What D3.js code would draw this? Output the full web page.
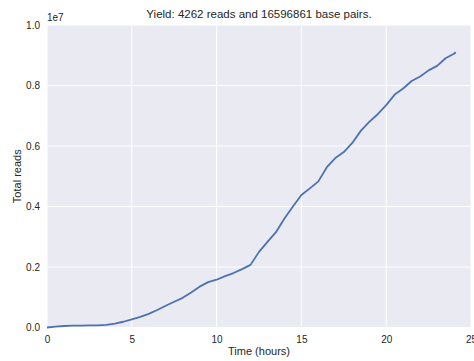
<!DOCTYPE html>
<html>
<head>
<meta charset="utf-8">
<script src="https://cdnjs.cloudflare.com/ajax/libs/d3/7.8.5/d3.min.js"></script>
<style>
  body { margin: 0; background: #fff; }
  svg text { font-family: "Liberation Sans", Arial, sans-serif; fill: #262626; }
</style>
</head>
<body>
<div id="chart"></div>
<script>
const title = "Yield: 4262 reads and 16596861 base pairs."
const hours = [0, 0.5, 1, 1.5, 2, 2.5, 3, 3.5, 4, 4.5, 5, 5.5, 6, 6.5, 7, 7.5, 8, 8.5, 9, 9.5,
    10, 10.5, 11, 11.5, 12, 12.5, 13, 13.5, 14, 14.5, 15, 15.5, 16, 16.5, 17, 17.5, 18, 18.5,
    19, 19.5, 20, 20.5, 21, 21.5, 22, 22.5, 23, 23.5, 24, 24.1]
const reads = [0, 30000, 50000, 60000, 62000, 68000, 72000, 90000, 130000, 190000, 270000, 350000,
    450000, 580000, 720000, 850000, 980000, 1160000, 1350000, 1500000, 1580000, 1700000, 1800000,
    1930000, 2070000, 2500000, 2830000, 3150000, 3600000, 4000000, 4380000, 4600000, 4830000,
    5300000, 5600000, 5800000, 6100000, 6500000, 6800000, 7050000, 7350000, 7700000, 7900000,
    8150000, 8300000, 8500000, 8650000, 8900000, 9050000, 9100000]
const xTicks = [0, 5, 10, 15, 20, 25]
const yTicks = [0, 2e6, 4e6, 6e6, 8e6, 1e7]

const W = 474, H = 361
const margin = {top: 25, right: 3, bottom: 33.5, left: 47}
const width = W - margin.left - margin.right,
      height = H - margin.top - margin.bottom

const svg = d3.select("#chart").append("svg")
    .attr("width", W).attr("height", H)
const g = svg.append("g")
    .attr("transform", "translate(" + margin.left + "," + margin.top + ")")

const x = d3.scaleLinear().domain([0, 25]).range([0, width])
const y = d3.scaleLinear().domain([0, 1e7]).range([height, 0])

g.append("rect")
    .attr("width", width).attr("height", height)
    .attr("fill", "#eaeaf2")

// grid
g.selectAll(".vgrid").data(xTicks).enter().append("line")
    .attr("x1", d => x(d)).attr("x2", d => x(d))
    .attr("y1", 0).attr("y2", height)
    .attr("stroke", "#fff").attr("stroke-width", 1)
g.selectAll(".hgrid").data(yTicks).enter().append("line")
    .attr("y1", d => y(d)).attr("y2", d => y(d))
    .attr("x1", 0).attr("x2", width)
    .attr("stroke", "#fff").attr("stroke-width", 1)

// axes
g.append("g")
    .attr("transform", "translate(0," + height + ")")
    .call(d3.axisBottom(x).tickValues(xTicks).tickSize(0).tickPadding(8).tickFormat(d3.format("d")))
g.append("g")
    .call(d3.axisLeft(y).tickValues(yTicks).tickSize(0).tickPadding(7).tickFormat(d => (d / 1e7).toFixed(1)))
svg.selectAll(".domain").remove()
svg.selectAll(".tick text")
    .style("font-size", "10px")
    .style("font-family", "'Liberation Sans', Arial, sans-serif")
    .attr("fill", "#333")

// line
const data = hours.map((h, i) => ({t: h, v: reads[i]}))
g.append("path")
    .datum(data)
    .attr("fill", "none")
    .attr("stroke", "#4c72b0")
    .attr("stroke-width", 1.8)
    .attr("stroke-linejoin", "round")
    .attr("d", d3.line().x(d => x(d.t)).y(d => y(d.v)))

// labels
svg.append("text")
    .attr("x", margin.left + width / 2).attr("y", 18)
    .attr("text-anchor", "middle")
    .style("font-size", "11.5px")
    .text(title)
svg.append("text")
    .attr("x", margin.left).attr("y", 21)
    .style("font-size", "10px")
    .text("1e7")
svg.append("text")
    .attr("x", margin.left + width / 2).attr("y", 355)
    .attr("text-anchor", "middle")
    .style("font-size", "11px")
    .text("Time (hours)")
svg.append("text")
    .attr("transform", "translate(21," + (margin.top + height / 2) + ") rotate(-90)")
    .attr("text-anchor", "middle")
    .style("font-size", "11px")
    .text("Total reads")
</script>
</body>
</html>
